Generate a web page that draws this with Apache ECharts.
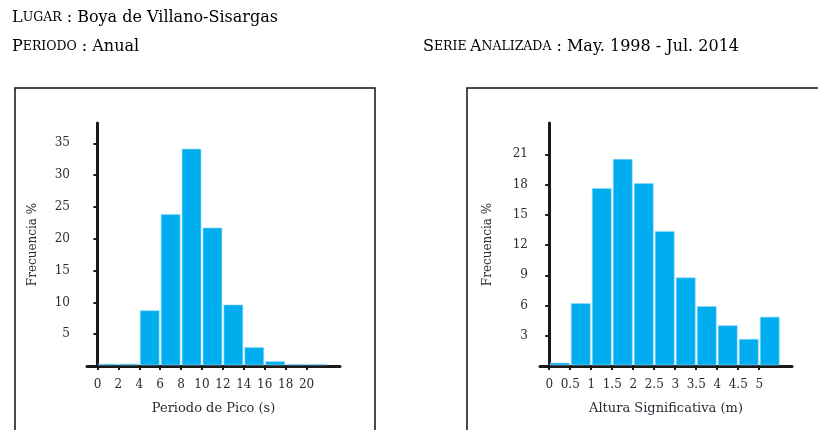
<!DOCTYPE html>
<html>
<head>
<meta charset="utf-8">
<script src="https://cdn.jsdelivr.net/npm/echarts@6/dist/echarts.min.js"></script>
<style>
  html, body { margin: 0; padding: 0; background: #fff; }
  #chart { width: 818px; height: 430px; }
</style>
</head>
<body>
<div id="chart"></div>
<script>
// Peak period histogram (bins of 2 s)
const periodBinStart = [0, 2, 4, 6, 8, 10, 12, 14, 16, 18, 20];
const periodBinWidth = 2;
const periodFreq = [0.3, 0.3, 8.7, 23.8, 34.1, 21.7, 9.6, 2.9, 0.7, 0.25, 0.25];
const periodTicks = [0, 2, 4, 6, 8, 10, 12, 14, 16, 18, 20];
const periodFreqTicks = [5, 10, 15, 20, 25, 30, 35];

// Significant wave height histogram (bins of 0.5 m)
const heightBinStart = [0, 0.5, 1, 1.5, 2, 2.5, 3, 3.5, 4, 4.5, 5];
const heightBinWidth = 0.5;
const heightFreq = [0.3, 6.2, 17.6, 20.5, 18.1, 13.35, 8.75, 5.9, 4.0, 2.65, 4.85];
const heightTicks = [0, 0.5, 1, 1.5, 2, 2.5, 3, 3.5, 4, 4.5, 5];
const heightFreqTicks = [3, 6, 9, 12, 15, 18, 21];

const FONT = 'DejaVu Serif';
const TXT = '#2b2b38';
const BAR = '#00aeef';

function histRender(width) {
  return function (params, api) {
    const x0 = api.value(0);
    const v = api.value(1);
    const p0 = api.coord([x0, 0]);
    const p1 = api.coord([x0 + width, v]);
    const gap = 1;
    return {
      type: 'rect',
      shape: {
        x: p0[0] + gap,
        y: p1[1],
        width: p1[0] - p0[0] - 2 * gap,
        height: p0[1] - p1[1] - 1
      },
      style: { fill: BAR, stroke: '#8fdcfa', lineWidth: 0.6 }
    };
  };
}

function xAxisDef(gridIndex, min, max, ticks, name) {
  return {
    type: 'value', gridIndex, min, max,
    name, nameLocation: 'middle', nameGap: 36,
    nameTextStyle: { fontFamily: FONT, fontSize: 13, color: TXT },
    splitLine: { show: false },
    axisLine: { onZero: false, lineStyle: { color: '#1a1a1a', width: 3 } },
    axisTick: { customValues: ticks, length: 4, lineStyle: { color: '#1a1a1a', width: 2 } },
    axisLabel: {
      customValues: ticks, margin: 13,
      fontFamily: FONT, fontSize: 12, color: TXT,
      formatter: v => String(v)
    }
  };
}

function yAxisDef(gridIndex, max, ticks, nameGap, labelMargin) {
  return {
    type: 'value', gridIndex, min: 0, max,
    name: 'Frecuencia %', nameLocation: 'middle', nameGap,
    nameTextStyle: { fontFamily: FONT, fontSize: 12, color: TXT },
    splitLine: { show: false },
    axisLine: { show: true, lineStyle: { color: '#1a1a1a', width: 3 } },
    axisTick: { show: true, customValues: ticks, length: 4, lineStyle: { color: '#1a1a1a', width: 2 } },
    axisLabel: {
      customValues: ticks, margin: labelMargin,
      fontFamily: FONT, fontSize: 12, color: TXT
    }
  };
}

const capRich = {
  big: { fontFamily: FONT, fontSize: 16, color: '#222' },
  sc: { fontFamily: FONT, fontSize: 12.5, color: '#222' },
  t: { fontFamily: FONT, fontSize: 16, color: '#222' }
};

const chart = echarts.init(document.getElementById('chart'), null, { renderer: 'canvas' });
chart.setOption({
  animation: false,
  backgroundColor: '#fff',
  graphic: [
    { type: 'rect', shape: { x: 15, y: 88, width: 360, height: 400 },
      style: { fill: 'none', stroke: '#111', lineWidth: 1.5 } },
    { type: 'rect', shape: { x: 467, y: 88, width: 400, height: 400 },
      style: { fill: 'none', stroke: '#111', lineWidth: 1.5 } },
    { type: 'text', left: 12, top: 10,
      style: { text: '{big|L}{sc|UGAR}{t| : Boya de Villano-Sisargas}', rich: capRich } },
    { type: 'text', left: 12, top: 39,
      style: { text: '{big|P}{sc|ERIODO}{t| : Anual}', rich: capRich } },
    { type: 'text', left: 423, top: 39,
      style: { text: '{big|S}{sc|ERIE} {big|A}{sc|NALIZADA}{t| : May. 1998 - Jul. 2014}', rich: capRich } }
  ],
  grid: [
    { left: 87, top: 123, width: 253, height: 243 },
    { left: 540, top: 123, width: 252, height: 243 }
  ],
  xAxis: [
    xAxisDef(0, -1, 23.2, periodTicks, 'Periodo de Pico (s)'),
    xAxisDef(1, -0.22, 5.78, heightTicks, 'Altura Significativa (m)')
  ],
  yAxis: [
    yAxisDef(0, 38.2, periodFreqTicks, 48, 17),
    yAxisDef(1, 24.1, heightFreqTicks, 46, 12)
  ],
  series: [
    {
      type: 'custom', xAxisIndex: 0, yAxisIndex: 0,
      renderItem: histRender(periodBinWidth),
      encode: { x: 0, y: 1 },
      data: periodBinStart.map((b, i) => [b, periodFreq[i]])
    },
    {
      type: 'custom', xAxisIndex: 1, yAxisIndex: 1,
      renderItem: histRender(heightBinWidth),
      encode: { x: 0, y: 1 },
      data: heightBinStart.map((b, i) => [b, heightFreq[i]])
    }
  ]
});
</script>
</body>
</html>
